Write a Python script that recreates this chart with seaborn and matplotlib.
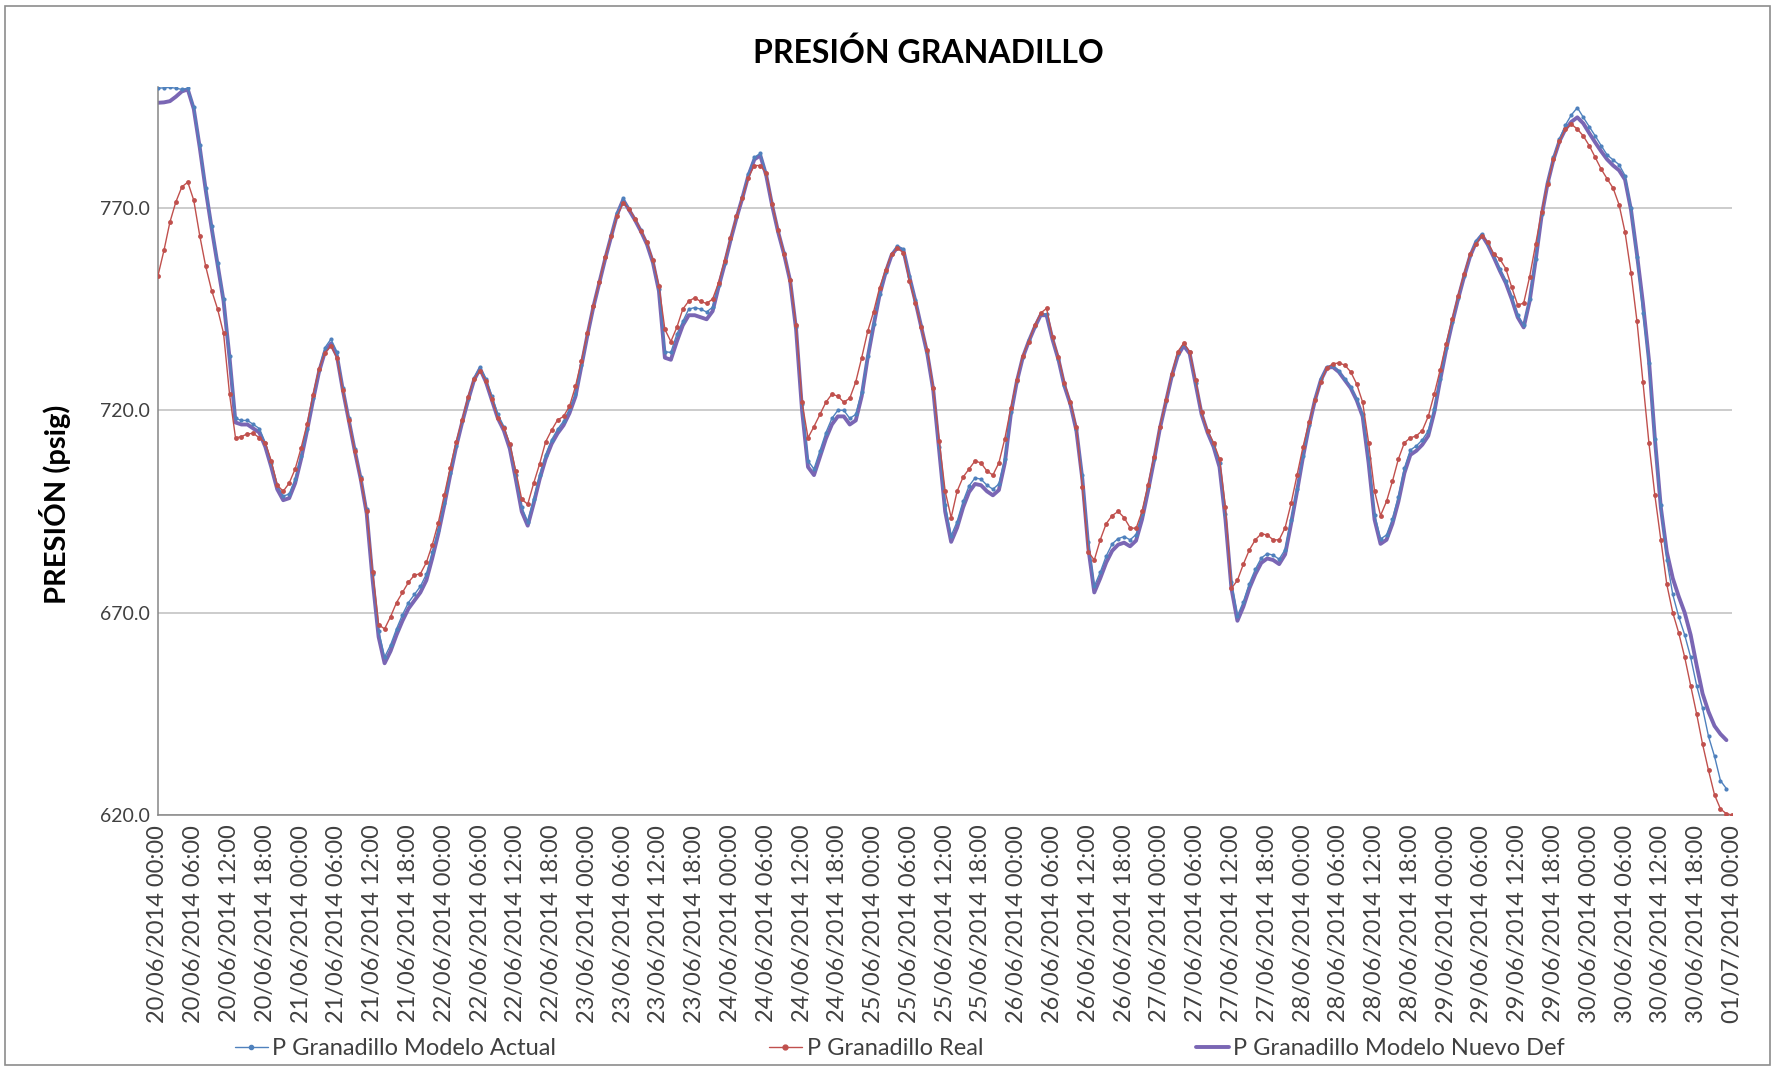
import matplotlib
matplotlib.use("Agg")
import matplotlib.dates as mdates
import matplotlib.pyplot as plt
import pandas as pd
import seaborn as sns
from matplotlib.lines import Line2D
from matplotlib.patches import Rectangle

# Hourly readings, 20/06/2014 00:00 -> 01/07/2014 00:00 (psig)
real = [
    753.3, 759.5, 766.5, 771.5, 775.2, 776.4, 771.9, 763.2, 755.6, 749.6, 745.0, 739.0,
    724.0, 713.2, 713.5, 714.2, 714.3, 713.2, 712.0, 707.5, 701.5, 700.0, 702.0, 705.5,
    710.7, 716.6, 723.9, 730.3, 734.2, 735.9, 733.0, 725.0, 717.5, 710.0, 703.0, 695.0,
    680.0, 667.0, 666.0, 669.0, 672.5, 675.0, 677.5, 679.3, 679.6, 682.4, 686.8, 692.2,
    699.0, 705.8, 712.2, 717.6, 723.4, 727.8, 729.8, 727.3, 722.9, 718.0, 715.6, 711.7,
    705.0, 698.0, 696.8, 702.0, 706.8, 712.2, 715.1, 717.6, 718.5, 721.0, 725.9, 732.2,
    739.0, 745.9, 751.7, 758.0, 763.0, 768.0, 771.3, 769.8, 767.4, 764.4, 761.5, 757.1,
    750.8, 740.0, 737.0, 740.5, 745.0, 747.0, 747.8, 746.9, 746.4, 747.5, 751.5, 757.0,
    762.5, 768.0, 772.5, 777.5, 780.5, 780.5, 778.6, 771.0, 764.5, 758.6, 752.2, 741.0,
    722.0, 713.2, 716.0, 719.0, 722.0, 724.0, 723.5, 722.0, 723.0, 727.0, 733.0, 739.5,
    744.4, 750.3, 754.7, 758.6, 760.0, 759.0, 752.0, 746.5, 740.5, 735.0, 725.5, 712.5,
    700.0, 693.5, 700.0, 703.5, 705.5, 707.5, 707.0, 705.0, 704.0, 707.0, 713.0, 720.5,
    727.5, 733.5, 737.0, 741.0, 744.0, 745.2, 738.0, 733.2, 726.8, 722.0, 716.0, 701.0,
    685.0, 683.0, 688.0, 692.0, 694.0, 695.0, 693.5, 691.0, 690.8, 695.0, 701.5, 708.5,
    716.0, 722.5, 729.0, 734.5, 736.6, 734.5, 727.5, 719.5, 715.0, 712.0, 708.0, 696.0,
    676.0, 678.0, 682.0, 685.5, 688.0, 689.5, 689.2, 688.0, 688.0, 691.0, 697.0, 704.0,
    711.0, 717.0, 722.5, 727.0, 730.5, 731.5, 731.7, 731.2, 729.5, 726.5, 722.0, 712.0,
    700.0, 694.0, 697.5, 702.5, 708.0, 712.0, 713.2, 713.7, 715.0, 718.5, 724.0, 730.0,
    736.5, 742.5, 748.3, 753.7, 758.6, 761.0, 763.2, 761.5, 758.6, 757.4, 755.0, 750.4,
    746.0, 746.5, 753.0, 761.0, 769.0, 776.0, 782.0, 786.5, 789.5, 790.7, 789.5, 787.8,
    785.4, 782.5, 779.6, 777.2, 774.9, 770.8, 764.0, 754.0, 742.0, 727.0, 712.0, 699.0,
    688.0, 677.0, 670.0, 665.0, 659.0, 652.0, 645.0, 637.5, 631.0, 625.0, 621.5, 620.3,
    620.0,
]

modelo_actual = [
    799.6, 799.7, 799.8, 799.6, 799.3, 799.6, 795.0, 785.5, 775.0, 765.5, 756.5, 747.5,
    733.5, 718.0, 717.5, 717.5, 716.5, 715.5, 712.0, 707.0, 701.5, 698.8, 699.3, 703.0,
    708.8, 715.5, 723.0, 730.0, 735.5, 737.6, 734.5, 725.5, 718.0, 710.5, 703.5, 695.5,
    679.5, 665.5, 659.0, 662.0, 666.0, 669.5, 672.5, 674.5, 676.5, 679.5, 685.0, 690.5,
    697.0, 704.5, 711.3, 717.3, 722.8, 728.0, 730.7, 727.8, 723.5, 719.0, 716.0, 711.5,
    704.0, 696.0, 692.5, 698.0, 704.0, 709.0, 712.7, 715.3, 717.3, 720.3, 724.0, 731.3,
    738.8, 745.8, 751.8, 757.8, 763.3, 768.8, 772.4, 769.8, 767.3, 764.5, 761.3, 756.8,
    750.0, 734.5, 734.3, 738.8, 742.0, 745.0, 745.4, 745.0, 744.3, 745.5, 751.0, 756.3,
    762.3, 767.8, 772.8, 778.5, 782.5, 783.5, 778.5, 771.0, 764.3, 758.8, 752.3, 740.5,
    721.5, 707.5, 705.5, 710.0, 714.5, 718.0, 720.0, 720.0, 718.0, 719.0, 724.5, 733.5,
    741.3, 748.8, 754.3, 758.6, 760.6, 759.8, 753.3, 747.3, 740.8, 734.3, 725.5, 711.0,
    696.5, 689.0, 692.5, 697.5, 701.3, 703.3, 703.0, 701.5, 700.5, 701.8, 708.0, 719.5,
    727.3, 733.3, 737.3, 740.8, 743.9, 743.8, 737.8, 732.8, 726.3, 721.8, 715.5, 704.0,
    687.5, 676.5, 680.0, 684.0, 687.0, 688.3, 688.8, 688.0, 689.3, 694.5, 701.0, 708.0,
    715.8, 722.3, 728.8, 733.8, 736.3, 734.3, 726.8, 719.3, 714.8, 711.5, 707.0, 694.5,
    677.5, 669.2, 672.7, 677.2, 680.7, 683.5, 684.6, 684.2, 683.2, 685.6, 693.0, 700.5,
    708.8, 716.3, 722.8, 727.8, 730.8, 731.0, 729.8, 727.8, 725.8, 722.8, 719.0, 708.2,
    694.2, 688.2, 689.2, 693.2, 698.7, 705.7, 710.2, 711.2, 712.7, 714.9, 720.3, 727.8,
    735.3, 741.8, 747.8, 753.3, 758.3, 761.8, 763.6, 761.2, 758.3, 755.0, 752.0, 748.0,
    743.5, 741.0, 747.5, 757.5, 768.5, 776.5, 782.5, 787.0, 790.5, 793.0, 794.8, 792.4,
    790.1, 787.8, 785.4, 783.1, 781.9, 780.7, 778.0, 770.0, 758.0, 744.0, 731.7, 713.0,
    696.6, 683.0, 674.5, 669.0, 664.5, 659.0, 652.0, 646.4, 639.4, 634.5, 628.5, 626.5,
]

modelo_nuevo = [
    796.0, 796.1, 796.4, 797.5, 798.8, 799.3, 794.5, 785.0, 774.5, 765.0, 756.0, 747.0,
    733.0, 717.0, 716.5, 716.5, 715.5, 714.5, 711.0, 706.0, 700.5, 697.8, 698.3, 702.0,
    708.0, 715.0, 722.5, 729.5, 734.5, 736.5, 733.5, 725.0, 717.5, 710.0, 703.0, 694.5,
    678.0, 664.0, 657.5, 660.5, 664.5, 668.0, 671.0, 673.0, 675.0, 678.0, 683.5, 689.5,
    696.5, 704.0, 711.0, 717.0, 722.5, 727.5, 730.3, 727.0, 722.5, 718.0, 715.0, 710.5,
    703.0, 695.0, 691.5, 697.0, 703.0, 708.0, 711.7, 714.3, 716.3, 719.3, 723.4, 731.0,
    738.5, 745.5, 751.5, 757.5, 763.0, 768.5, 772.0, 769.5, 767.0, 764.2, 761.0, 756.5,
    749.5, 733.0, 732.5, 737.0, 741.0, 743.5, 743.5, 743.0, 742.5, 744.5, 750.5, 756.0,
    762.0, 767.5, 772.5, 778.0, 782.0, 783.0, 778.0, 770.5, 764.0, 758.5, 752.0, 740.0,
    720.0, 706.0, 704.0, 708.5, 713.0, 716.5, 718.5, 718.5, 716.5, 717.5, 723.5, 733.0,
    741.0, 748.5, 754.0, 758.3, 760.3, 759.5, 753.0, 747.0, 740.5, 734.0, 725.0, 710.0,
    695.0, 687.5, 691.0, 696.0, 699.8, 701.8, 701.5, 700.0, 699.0, 700.3, 707.0, 719.0,
    727.0, 733.0, 737.0, 740.5, 743.5, 743.5, 737.5, 732.5, 726.0, 721.5, 715.0, 703.0,
    686.0, 675.0, 678.5, 682.4, 685.3, 686.8, 687.3, 686.4, 687.8, 693.0, 700.0, 707.5,
    715.5, 722.0, 728.5, 733.5, 736.0, 734.0, 726.5, 719.0, 714.5, 711.0, 706.0, 693.0,
    676.0, 668.0, 671.5, 676.0, 679.5, 682.3, 683.4, 683.0, 682.0, 684.4, 692.0, 700.0,
    708.5, 716.0, 722.5, 727.5, 730.5, 730.7, 729.5, 727.5, 725.5, 722.5, 718.5, 707.0,
    693.0, 687.0, 688.0, 692.0, 697.5, 704.5, 709.0, 710.0, 711.5, 713.7, 719.5, 727.5,
    735.0, 741.5, 747.5, 753.0, 758.0, 761.5, 763.3, 760.9, 757.8, 754.5, 751.5, 747.5,
    743.0, 740.5, 747.0, 757.0, 768.0, 776.0, 782.0, 786.5, 789.5, 791.3, 792.4, 790.9,
    788.5, 786.2, 784.0, 782.0, 780.5, 779.3, 777.0, 769.5, 758.5, 746.5, 732.5, 713.0,
    696.0, 685.0, 678.5, 674.0, 670.0, 664.5, 657.0, 650.0, 645.5, 642.0, 640.0, 638.5,
]

y_ticks = [620.0, 670.0, 720.0, 770.0]
labels = [
    "P Granadillo Modelo Actual",
    "P Granadillo Real",
    "P Granadillo Modelo Nuevo Def",
]
colors = ["#4F81BD", "#C0504D", "#7A66B4"]

start = pd.Timestamp("2014-06-20 00:00")
end = pd.Timestamp("2014-07-01 00:00")

df_real = pd.DataFrame({"t": pd.date_range(start, periods=len(real), freq="h"), "p": real})
df_actual = pd.DataFrame({"t": pd.date_range(start, periods=len(modelo_actual), freq="h"), "p": modelo_actual})
df_nuevo = pd.DataFrame({"t": pd.date_range(start, periods=len(modelo_nuevo), freq="h"), "p": modelo_nuevo})

sns.set_theme(style="white")
plt.rcParams["font.family"] = ["Lato", "DejaVu Sans"]

fig = plt.figure(figsize=(17.75, 10.69), dpi=100)
ax = fig.add_axes([0.089, 0.2376, 0.887, 0.6814])

sns.lineplot(data=df_nuevo, x="t", y="p", ax=ax, color=colors[2], linewidth=2.8, zorder=2)
sns.lineplot(data=df_actual, x="t", y="p", ax=ax, color=colors[0], linewidth=1.0,
             marker="o", markersize=3, markeredgewidth=0, zorder=3)
sns.lineplot(data=df_real, x="t", y="p", ax=ax, color=colors[1], linewidth=1.0,
             marker="o", markersize=3.5, markeredgewidth=0, zorder=4)

ax.set_xlim(start, end)
ax.set_ylim(620, 800)
ax.set_yticks(y_ticks)
ax.set_yticklabels([f"{v:.1f}" for v in y_ticks], fontsize=14, color="#404040")
ax.yaxis.grid(True, color="#BFBFBF", linewidth=1.1)
ax.xaxis.grid(False)

ax.xaxis.set_major_locator(mdates.HourLocator(byhour=[0, 6, 12, 18]))
ax.xaxis.set_major_formatter(mdates.DateFormatter("%d/%m/%Y %H:%M"))
plt.setp(ax.get_xticklabels(), rotation=90, fontsize=17, color="#404040")
ax.tick_params(axis="x", length=4, color="#868686", pad=3)
ax.tick_params(axis="y", length=0, pad=6)

ax.set_xlabel("")
ax.set_ylabel("")
for side in ["top", "right"]:
    ax.spines[side].set_visible(False)
for side in ["left", "bottom"]:
    ax.spines[side].set_color("#868686")
    ax.spines[side].set_linewidth(1.1)

fig.text(0.523, 0.951, "PRESIÓN GRANADILLO", ha="center", va="center",
         fontsize=23, fontweight="bold", color="black")
fig.text(0.031, 0.528, "PRESIÓN (psig)", ha="center", va="center", rotation=90,
         fontsize=21, fontweight="bold", color="black")

handles = [
    Line2D([], [], color=colors[0], linewidth=1.0, marker="o", markersize=3),
    Line2D([], [], color=colors[1], linewidth=1.0, marker="o", markersize=3.5),
    Line2D([], [], color=colors[2], linewidth=2.8),
]
fig.legend(handles, labels, loc="center", bbox_to_anchor=(0.507, 0.019), ncol=3,
           frameon=False, fontsize=17, handlelength=1.4, handletextpad=0.2,
           columnspacing=9.0, labelcolor="#404040")

fig.add_artist(Rectangle((0.003, 0.004), 0.994, 0.99, transform=fig.transFigure,
                         fill=False, edgecolor="#8C8C8C", linewidth=1.2))

fig.savefig("out.png", dpi=100)
